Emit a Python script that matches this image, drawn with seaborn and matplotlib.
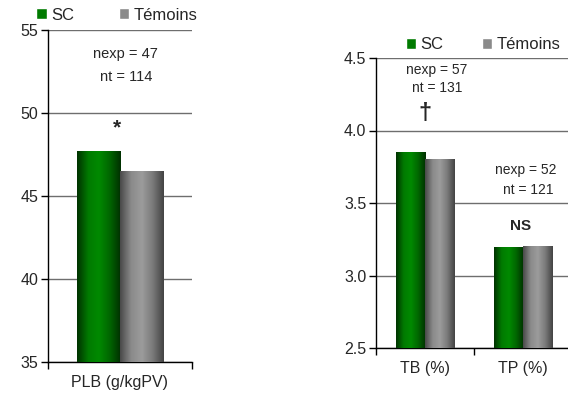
import numpy as np
import pandas as pd
import matplotlib
matplotlib.use("Agg")
import matplotlib.pyplot as plt
import seaborn as sns
from matplotlib.colors import LinearSegmentedColormap
from matplotlib.patches import Patch

# data
groups = ["SC", "Témoins"]
plb_cat = ["PLB (g/kgPV)"]
plb_sc = [47.7]
plb_tem = [46.5]
tx_cat = ["TB (%)", "TP (%)"]
tx_sc = [3.85, 3.19]
tx_tem = [3.80, 3.20]

green_cmap = LinearSegmentedColormap.from_list("g", ["#003300", "#007a00", "#008a00", "#006600", "#003000"])
grey_cmap = LinearSegmentedColormap.from_list("k", ["#4a4a4a", "#8a8a8a", "#9c9c9c", "#7a7a7a", "#444444"])

sns.set_style("white")
plt.rcParams['font.family'] = ['Liberation Sans', 'DejaVu Sans']

fig = plt.figure(figsize=(5.68, 4), dpi=100)


def draw_panel(ax, cats, sc, tem, ylim, step, fmt):
    df = pd.DataFrame({"cat": cats * 2,
                       "grp": [groups[0]] * len(cats) + [groups[1]] * len(cats),
                       "val": sc + tem})
    sns.barplot(data=df, x="cat", y="val", hue="grp", hue_order=groups,
                palette=["#007a00", "#8a8a8a"], width=0.6, gap=0,
                legend=False, ax=ax, zorder=2)
    # gradient fill on each bar
    grad = np.linspace(0, 1, 64)[np.newaxis, :]
    for cont, cmap in zip(ax.containers, [green_cmap, grey_cmap]):
        for bar in cont:
            x, w = bar.get_x(), bar.get_width()
            y0, h = bar.get_y(), bar.get_height()
            ax.imshow(grad, extent=[x, x + w, y0, y0 + h], aspect="auto",
                      cmap=cmap, zorder=3, interpolation="bilinear")
            bar.set_visible(False)
    ax.set_xlim(-0.5, len(cats) - 0.5)
    ax.set_ylim(*ylim)
    ticks = np.arange(ylim[0], ylim[1] + step / 2, step)
    ax.set_yticks(ticks)
    ax.set_yticklabels([fmt.format(t) for t in ticks])
    ax.yaxis.grid(True, color="#6e6e6e", lw=1)
    ax.set_axisbelow(True)
    ax.set_xlabel("")
    ax.set_ylabel("")
    for s in ["top", "right"]:
        ax.spines[s].set_visible(False)
    for s in ["left", "bottom"]:
        ax.spines[s].set_color("black")
        ax.spines[s].set_linewidth(1)
    ax.tick_params(axis="y", direction="out", length=5, width=1, color="black",
                   labelsize=11.5, left=True, pad=2)
    ax.tick_params(axis="x", which="major", length=0, labelsize=11.5, pad=9)
    ax.set_xticks(np.arange(-0.5, len(cats)), minor=True)
    ax.tick_params(axis="x", which="minor", direction="out", length=5,
                   width=1, color="black", bottom=True)


ax1 = fig.add_axes([0.0845, 0.095, 0.2535, 0.83])
draw_panel(ax1, plb_cat, plb_sc, plb_tem, (35, 55), 5, "{:.0f}")
ax1.text(0.04, 53.55, "nexp = 47", ha="center", va="center", fontsize=10.5)
ax1.text(0.04, 52.17, "nt = 114", ha="center", va="center", fontsize=10.5)
ax1.text(-0.02, 49.1, "*", ha="center", va="center", fontsize=15, fontweight="bold")

ax2 = fig.add_axes([0.662, 0.13, 0.345, 0.725])
draw_panel(ax2, tx_cat, tx_sc, tx_tem, (2.5, 4.5), 0.5, "{:.1f}")
ax2.text(0.12, 4.415, "nexp = 57", ha="center", va="center", fontsize=10)
ax2.text(0.12, 4.29, "nt = 131", ha="center", va="center", fontsize=10)
ax2.text(0.0, 4.12, "†", ha="center", va="center", fontsize=17, fontweight="bold")
ax2.text(1.03, 3.73, "nexp = 52", ha="center", va="center", fontsize=10)
ax2.text(1.05, 3.59, "nt = 121", ha="center", va="center", fontsize=10)
ax2.text(0.98, 3.34, "NS", ha="center", va="center", fontsize=11, fontweight="bold")

handles = [Patch(facecolor="#007a00"), Patch(facecolor="#8a8a8a")]
fig.legend(handles, groups, loc="center left", bbox_to_anchor=(0.064, 0.962),
           ncol=2, frameon=False, fontsize=12, handlelength=0.62, handleheight=0.62,
           handletextpad=0.25, columnspacing=2.7, borderpad=0, borderaxespad=0)
fig.legend(handles, groups, loc="center left", bbox_to_anchor=(0.715, 0.888),
           ncol=2, frameon=False, fontsize=12, handlelength=0.62, handleheight=0.62,
           handletextpad=0.25, columnspacing=2.3, borderpad=0, borderaxespad=0)

fig.savefig("out.png", dpi=100)
